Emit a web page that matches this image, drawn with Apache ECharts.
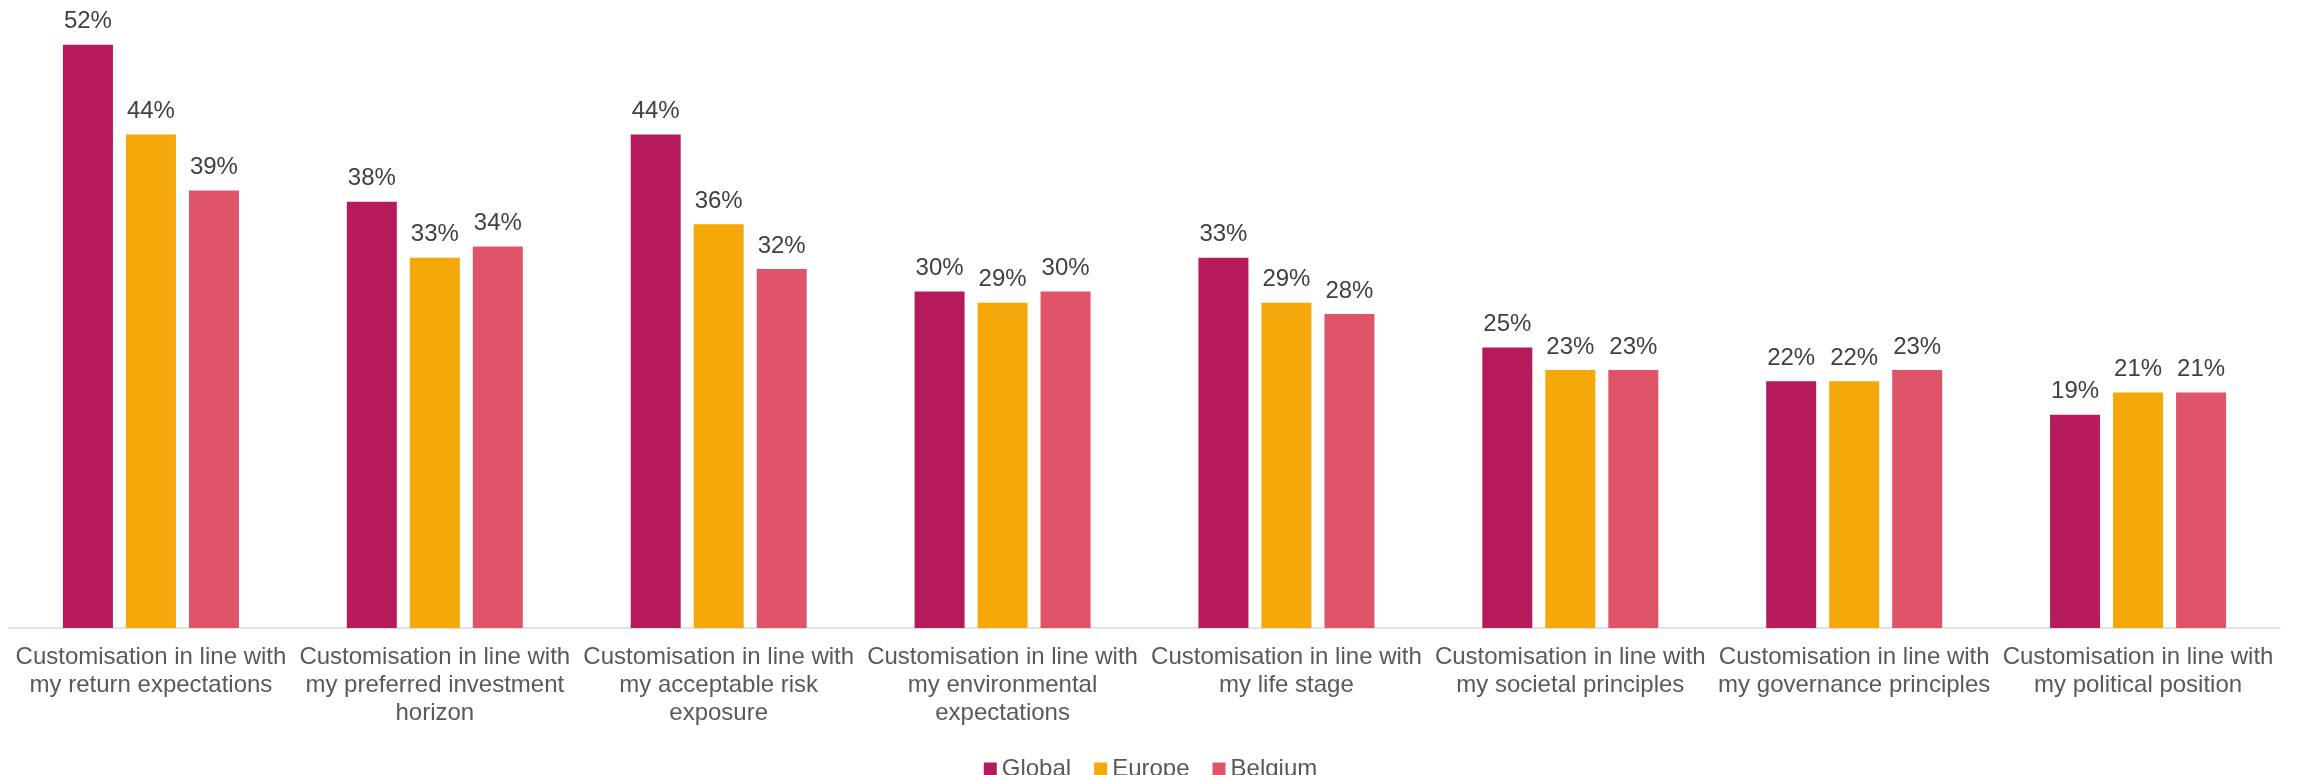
<!DOCTYPE html>
<html>
<head>
<meta charset="utf-8">
<title>Customisation preferences</title>
<script src="https://cdn.jsdelivr.net/npm/echarts@6/dist/echarts.min.js"></script>
<style>
  html, body { margin: 0; padding: 0; background: #ffffff; }
  #chart { width: 2301px; height: 775px; }
</style>
</head>
<body>
<div id="chart"></div>
<script>
// Survey categories (line breaks as shown under the axis)
const categories = [
  'Customisation in line with\nmy return expectations',
  'Customisation in line with\nmy preferred investment\nhorizon',
  'Customisation in line with\nmy acceptable risk\nexposure',
  'Customisation in line with\nmy environmental\nexpectations',
  'Customisation in line with\nmy life stage',
  'Customisation in line with\nmy societal principles',
  'Customisation in line with\nmy governance principles',
  'Customisation in line with\nmy political position'
];

// Share of respondents, in percent
const globalValues  = [52, 38, 44, 30, 33, 25, 22, 19];
const europeValues  = [44, 33, 36, 29, 29, 23, 22, 21];
const belgiumValues = [39, 34, 32, 30, 28, 23, 23, 21];

const seriesNames = ['Global', 'Europe', 'Belgium'];
const seriesColors = ['#B51A5B', '#F5A809', '#E0546A'];

const FONT = '"Liberation Sans", Arial, sans-serif';

function barSeries(name, data, color) {
  return {
    name: name,
    type: 'bar',
    data: data,
    barWidth: 50,
    barGap: '26%',
    itemStyle: { color: color },
    label: {
      show: true,
      position: 'top',
      distance: 11,
      formatter: '{c}%',
      color: '#404040',
      fontFamily: FONT,
      fontSize: 24
    }
  };
}

const chart = echarts.init(document.getElementById('chart'), null, { renderer: 'canvas' });

chart.setOption({
  animation: false,
  backgroundColor: '#ffffff',
  textStyle: { fontFamily: FONT },
  grid: { left: 9, right: 21, top: 11, bottom: 147, containLabel: false },
  legend: {
    data: seriesNames,
    left: 'center',
    top: 752,
    icon: 'rect',
    itemWidth: 13,
    itemHeight: 13,
    itemGap: 23,
    textStyle: { color: '#595959', fontFamily: FONT, fontSize: 24 }
  },
  xAxis: {
    type: 'category',
    data: categories,
    axisLine: { lineStyle: { color: '#D9D9D9', width: 1.5 } },
    axisTick: { show: false },
    axisLabel: {
      interval: 0,
      margin: 15,
      color: '#595959',
      fontFamily: FONT,
      fontSize: 24,
      lineHeight: 28,
      align: 'center'
    }
  },
  yAxis: {
    type: 'value',
    min: 0,
    max: 55,
    show: false,
    splitLine: { show: false }
  },
  series: [
    barSeries(seriesNames[0], globalValues, seriesColors[0]),
    barSeries(seriesNames[1], europeValues, seriesColors[1]),
    barSeries(seriesNames[2], belgiumValues, seriesColors[2])
  ]
});
</script>
</body>
</html>
